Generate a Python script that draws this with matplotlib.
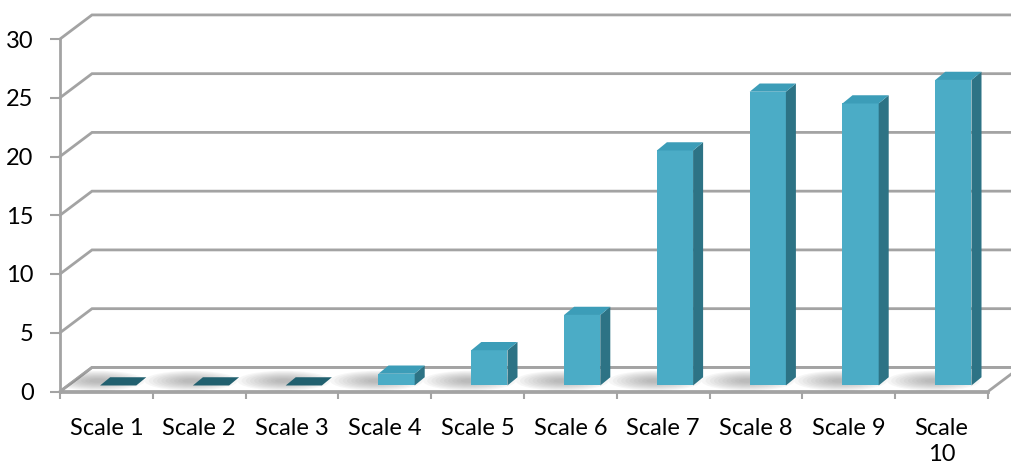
import numpy as np
import matplotlib.pyplot as plt
from matplotlib.patches import Polygon, Ellipse

# chart data
categories = ['Scale 1', 'Scale 2', 'Scale 3', 'Scale 4', 'Scale 5',
              'Scale 6', 'Scale 7', 'Scale 8', 'Scale 9', 'Scale\n10']
values = [0, 0, 0, 1, 3, 6, 20, 25, 24, 26]
y_ticks = [0, 5, 10, 15, 20, 25, 30]

# colours
grid_col = '#A3A3A3'
front_col = '#4BACC6'
side_col = '#2D7385'
top_col = '#3C9DB8'
flat_col = '#21606F'

# fake 3d depth (in data units)
dx, dy = 0.345, 2.05        # wall depth
bar_f = 0.25                # bar front face depth fraction
bdx, bdy = 0.108, 0.7       # bar depth
bar_w = 0.39
bar_shift = 0.127

plt.rcParams['font.family'] = ['Lato', 'DejaVu Sans']

fig = plt.figure(figsize=(10.12, 4.68), dpi=100)
ax = fig.add_axes([60 / 1012, (468 - 391.5) / 468, 928 / 1012, 352.5 / 468])
ax.set_xlim(0, 10)
ax.set_ylim(0, 30)
ax.patch.set_alpha(0)

# floor
n = len(categories)
floor = Polygon([(0, 0), (n, 0), (n + dx, dy), (dx, dy)], closed=True,
                facecolor='white', edgecolor=grid_col, lw=2, clip_on=False, zorder=1)
ax.add_patch(floor)

# gridlines on side wall and back wall
for v in y_ticks:
    ax.plot([0, dx, n + dx + 0.5], [v, v + dy, v + dy], color=grid_col, lw=2,
            clip_on=False, zorder=1, solid_joinstyle='miter')

# shadows on floor
xs = np.arange(n) + 0.5 + bar_shift
base = bar_f * dy
for i in range(n):
    x0 = xs[i] - bar_w / 2
    for k in range(10):
        s = 1 - k * 0.09
        e = Ellipse((x0 - 0.02, base + 0.4), 1.0 * s, 1.7 * s,
                    facecolor='#707070', edgecolor='none', alpha=0.06, zorder=2)
        ax.add_patch(e)
        e.set_clip_path(floor)

# bar front faces
ax.bar(xs, values, width=bar_w, bottom=base, color=front_col, zorder=4,
       edgecolor='none')

for i, v in enumerate(values):
    x0 = xs[i] - bar_w / 2
    x1 = xs[i] + bar_w / 2
    top = base + v
    if v > 0:
        side = Polygon([(x1, base), (x1, top), (x1 + bdx, top + bdy), (x1 + bdx, base + bdy)],
                       closed=True, facecolor=side_col, edgecolor='none', zorder=4)
        ax.add_patch(side)
    lid = Polygon([(x0, top), (x1, top), (x1 + bdx, top + bdy), (x0 + bdx, top + bdy)],
                  closed=True, facecolor=top_col if v > 0 else flat_col,
                  edgecolor='none', zorder=5)
    ax.add_patch(lid)

# axes styling
for s in ['top', 'right']:
    ax.spines[s].set_visible(False)
for s in ['left', 'bottom']:
    ax.spines[s].set_color(grid_col)
    ax.spines[s].set_linewidth(2)
    ax.spines[s].set_zorder(3)

ax.set_yticks(y_ticks)
ax.tick_params(axis='y', length=7, width=1.5, color=grid_col, pad=12,
               labelsize=17, labelcolor='black')

ax.set_xticks(np.arange(n + 1))
ax.set_xticklabels([])
ax.set_xticks(np.arange(n) + 0.5, minor=True)
ax.set_xticklabels(categories, minor=True, linespacing=1.3)
ax.tick_params(axis='x', which='major', length=5, width=1.5, color=grid_col)
ax.tick_params(axis='x', which='minor', length=0, pad=19, labelsize=17,
               labelcolor='black')

fig.savefig('out.png', dpi=100)
